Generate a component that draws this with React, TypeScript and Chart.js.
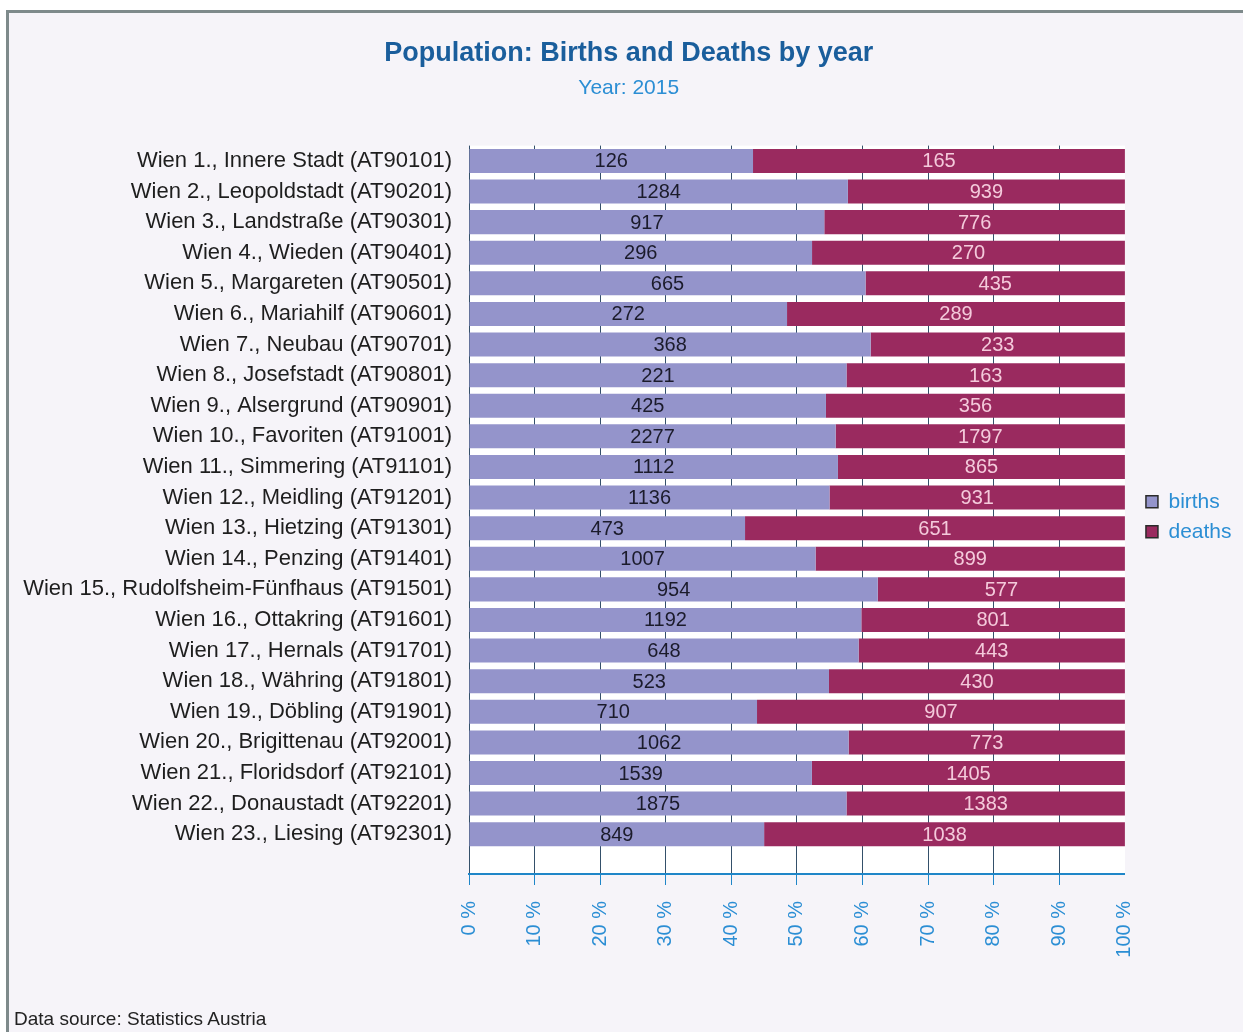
import React, { useEffect, useRef } from 'react';
import { Chart, registerables } from 'chart.js';

Chart.register(...registerables);

const FONT = '"Liberation Sans", Arial, Helvetica, sans-serif';

const categories = [
  'Wien 1., Innere Stadt (AT90101)',
  'Wien 2., Leopoldstadt (AT90201)',
  'Wien 3., Landstraße (AT90301)',
  'Wien 4., Wieden (AT90401)',
  'Wien 5., Margareten (AT90501)',
  'Wien 6., Mariahilf (AT90601)',
  'Wien 7., Neubau (AT90701)',
  'Wien 8., Josefstadt (AT90801)',
  'Wien 9., Alsergrund (AT90901)',
  'Wien 10., Favoriten (AT91001)',
  'Wien 11., Simmering (AT91101)',
  'Wien 12., Meidling (AT91201)',
  'Wien 13., Hietzing (AT91301)',
  'Wien 14., Penzing (AT91401)',
  'Wien 15., Rudolfsheim-Fünfhaus (AT91501)',
  'Wien 16., Ottakring (AT91601)',
  'Wien 17., Hernals (AT91701)',
  'Wien 18., Währing (AT91801)',
  'Wien 19., Döbling (AT91901)',
  'Wien 20., Brigittenau (AT92001)',
  'Wien 21., Floridsdorf (AT92101)',
  'Wien 22., Donaustadt (AT92201)',
  'Wien 23., Liesing (AT92301)',
];

const births = [126, 1284, 917, 296, 665, 272, 368, 221, 425, 2277, 1112, 1136, 473, 1007, 954, 1192, 648, 523, 710, 1062, 1539, 1875, 849];
const deaths = [165, 939, 776, 270, 435, 289, 233, 163, 356, 1797, 865, 931, 651, 899, 577, 801, 443, 430, 907, 773, 1405, 1383, 1038];

const seriesNames = ['births', 'deaths'];
const titleText = 'Population: Births and Deaths by year';
const subtitleText = 'Year: 2015';
const sourceText = 'Data source: Statistics Austria';

const BIRTH_COLOR = '#9494cb';
const DEATH_COLOR = '#9a2a5f';
const BLUE = '#2b8ed4';
const GRID = '#34506a';
const AXIS = '#1f86c8';

export default function App() {
  const ref = useRef<HTMLCanvasElement>(null);

  useEffect(() => {
    const canvas = ref.current;
    if (!canvas) return;
    const totals = births.map((b, i) => b + deaths[i]);
    const rawSeries = [births, deaths];
    const pctSeries = rawSeries.map((s) => s.map((v, i) => ({ x: (v / totals[i]) * 100, y: i })));

    const bgPlugin = {
      id: 'areaBg',
      beforeDraw(chart: any) {
        const { ctx, chartArea } = chart;
        ctx.save();
        ctx.fillStyle = '#ffffff';
        ctx.fillRect(chartArea.left, chartArea.top, chartArea.right - chartArea.left, chartArea.bottom - chartArea.top);
        ctx.restore();
      },
    };

    const labelPlugin = {
      id: 'barLabels',
      afterDatasetsDraw(chart: any) {
        const { ctx } = chart;
        ctx.save();
        ctx.font = `20px ${FONT}`;
        ctx.textAlign = 'center';
        ctx.textBaseline = 'middle';
        chart.data.datasets.forEach((ds: any, di: number) => {
          const meta = chart.getDatasetMeta(di);
          ctx.fillStyle = di === 0 ? '#1b1b2b' : '#f4cadb';
          meta.data.forEach((bar: any, j: number) => {
            const p = bar.getProps(['x', 'y', 'base'], true);
            ctx.fillText(String(rawSeries[di][j]), (p.x + p.base) / 2, p.y + 1);
          });
        });
        ctx.restore();
      },
    };

    const chart = new Chart(canvas, {
      type: 'bar',
      data: {
        datasets: [
          { label: seriesNames[0], data: pctSeries[0], backgroundColor: BIRTH_COLOR, borderWidth: 0, categoryPercentage: 1, barPercentage: 0.785 },
          { label: seriesNames[1], data: pctSeries[1], backgroundColor: DEATH_COLOR, borderWidth: 0, categoryPercentage: 1, barPercentage: 0.785 },
        ],
      } as any,
      options: {
        indexAxis: 'y',
        animation: false,
        responsive: true,
        maintainAspectRatio: false,
        layout: { padding: { top: 30, left: 16, right: 1.5, bottom: 0 } },
        font: { family: FONT },
        plugins: {
          tooltip: { enabled: false },
          title: {
            display: true,
            text: titleText,
            color: '#1a5e9c',
            font: { family: FONT, size: 27, weight: 'bold' },
            padding: { top: 7, bottom: 0 },
          },
          subtitle: {
            display: true,
            text: subtitleText,
            color: BLUE,
            font: { family: FONT, size: 21 },
            padding: { top: 6, bottom: 45 },
          },
          legend: {
            position: 'right',
            fullSize: false,
            title: { display: true, text: ' ', font: { family: FONT, size: 10 }, padding: 1 },
            labels: {
              color: BLUE,
              font: { family: FONT, size: 21 },
              boxWidth: 12,
              boxHeight: 12,
              padding: 9,
              generateLabels(chart: any) {
                const items = Chart.defaults.plugins.legend.labels.generateLabels(chart);
                return items.map((it: any) => ({ ...it, strokeStyle: '#2a2a2a', lineWidth: 1.5 }));
              },
            },
          },
        },
        scales: {
          x: {
            type: 'linear',
            stacked: true,
            min: 0,
            max: 100,
            position: 'bottom',
            afterFit(s: any) {
              s.height = 158;
            },
            ticks: {
              stepSize: 10,
              autoSkip: false,
              minRotation: 90,
              maxRotation: 90,
              padding: 16,
              color: BLUE,
              font: { family: FONT, size: 20 },
              callback: (v: any) => `${v} %`,
            },
            grid: {
              color: (c: any) => (c.tick && c.tick.value === 100 ? 'rgba(0,0,0,0)' : GRID),
              tickColor: (c: any) => (c.tick && c.tick.value === 100 ? 'rgba(0,0,0,0)' : AXIS),
              tickLength: 11,
              lineWidth: 1,
            },
            border: { display: true, color: AXIS, width: 2 },
          },
          y: {
            type: 'linear',
            stacked: true,
            reverse: true,
            offset: false,
            min: -0.5,
            max: 23.3,
            afterFit(s: any) {
              s.width = 453;
            },
            afterBuildTicks(s: any) {
              s.ticks = categories.map((_, i) => ({ value: i }));
            },
            ticks: {
              autoSkip: false,
              padding: 17,
              color: '#1e1e1e',
              font: { family: FONT, size: 22 },
              callback: (v: any) => categories[v] ?? '',
            },
            grid: { display: false, drawTicks: false, offset: false },
            border: { display: false },
          },
          y2: {
            type: 'linear',
            position: 'right',
            display: true,
            afterFit(s: any) {
              s.width = 12;
            },
            ticks: { display: false },
            grid: { display: false, drawTicks: false },
            border: { display: false },
          },
        },
      } as any,
      plugins: [bgPlugin, labelPlugin],
    });
    return () => chart.destroy();
  }, []);

  return (
    <div style={{ position: 'absolute', left: 0, top: 0, width: 1243, height: 1032, overflow: 'hidden', background: '#ffffff' }}>
      <div
        style={{
          position: 'absolute',
          left: 6,
          top: 10,
          width: 1300,
          height: 1100,
          borderTop: '3px solid #7e8a8b',
          borderLeft: '3px solid #7e8a8b',
          background: '#f6f4f9',
        }}
      />
      <div style={{ position: 'absolute', left: 0, top: 0, width: 1243, height: 1032 }}>
        <canvas ref={ref} />
      </div>
      <div
        style={{
          position: 'absolute',
          left: 14,
          top: 1008,
          fontFamily: FONT,
          fontSize: 19,
          color: '#222222',
          whiteSpace: 'nowrap',
        }}
      >
        {sourceText}
      </div>
    </div>
  );
}
